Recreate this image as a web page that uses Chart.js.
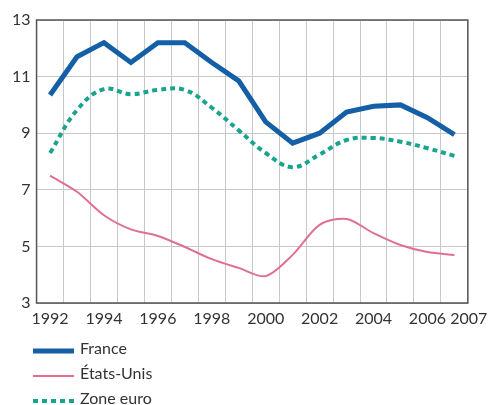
<!DOCTYPE html>
<html lang="fr">
<head>
    <meta charset="UTF-8">
    <title>France, États-Unis, Zone euro</title>
    <script src="https://cdn.jsdelivr.net/npm/chart.js"></script>
    <style>
        html, body { margin: 0; padding: 0; background: #fff; }
        #wrap { width: 494px; height: 405px; }
    </style>
</head>
<body>
    <div id="wrap"><canvas id="myChart"></canvas></div>

    <script>
        // données
        const years = ['1992', '1993', '1994', '1995', '1996', '1997', '1998', '1999',
                       '2000', '2001', '2002', '2003', '2004', '2005', '2006', '2007'];
        const shownYears = ['1992', '1994', '1996', '1998', '2000', '2002', '2004', '2006', '2007'];
        const france = [10.35, 11.7, 12.2, 11.5, 12.2, 12.2, 11.5, 10.85, 9.4, 8.65, 9.0, 9.75, 9.95, 10.0, 9.55, 8.95];
        const etatsUnis = [7.5, 6.93, 6.1, 5.6, 5.37, 4.98, 4.55, 4.24, 3.95, 4.7, 5.76, 5.97, 5.47, 5.05, 4.8, 4.7];
        const zoneEuro = [8.3, 9.82, 10.56, 10.38, 10.53, 10.53, 9.9, 9.1, 8.3, 7.8, 8.25, 8.76, 8.83, 8.7, 8.47, 8.2];
        const yMin = 3, yMax = 13, yStep = 2;

        const fontName = 'Lato, "Open Sans", sans-serif';

        // cadre autour de la zone du graphique
        const framePlugin = {
            id: 'frame',
            afterDraw(chart) {
                const a = chart.chartArea;
                const ctx = chart.ctx;
                ctx.save();
                ctx.strokeStyle = '#555';
                ctx.lineWidth = 1.5;
                ctx.strokeRect(a.left, a.top, a.right - a.left, a.bottom - a.top);
                ctx.restore();
            }
        };

        // légende verticale en bas à gauche
        const legendPlugin = {
            id: 'vlegend',
            afterDraw(chart) {
                const ctx = chart.ctx;
                const top = chart.chartArea.bottom + 46;
                ctx.save();
                chart.data.datasets.forEach((ds, i) => {
                    const y = top + i * 25;
                    ctx.beginPath();
                    ctx.strokeStyle = ds.borderColor;
                    ctx.lineWidth = ds.borderWidth;
                    ctx.setLineDash(ds.borderDash || []);
                    ctx.moveTo(33, y + 2);
                    ctx.lineTo(74, y + 2);
                    ctx.stroke();
                    ctx.setLineDash([]);
                    ctx.fillStyle = '#333';
                    ctx.font = '16px ' + fontName;
                    ctx.textBaseline = 'middle';
                    ctx.fillText(ds.label, 80, y);
                });
                ctx.restore();
            }
        };

        const ctx = document.getElementById('myChart').getContext('2d');
        const myChart = new Chart(ctx, {
            type: 'line',
            data: {
                labels: years,
                datasets: [{
                    label: 'France',
                    data: france,
                    borderColor: '#145fa5',
                    borderWidth: 5,
                    tension: 0,
                    pointRadius: 0
                }, {
                    label: 'États-Unis',
                    data: etatsUnis,
                    borderColor: '#e0708f',
                    borderWidth: 2,
                    tension: 0.3,
                    pointRadius: 0
                }, {
                    label: 'Zone euro',
                    data: zoneEuro,
                    borderColor: '#18a48d',
                    borderWidth: 4,
                    borderDash: [5, 4],
                    tension: 0.4,
                    pointRadius: 0
                }]
            },
            options: {
                responsive: true,
                maintainAspectRatio: false,
                animation: false,
                layout: { padding: { top: 20, right: 23, left: 6, bottom: 80 } },
                plugins: {
                    legend: { display: false },
                    tooltip: { enabled: false }
                },
                scales: {
                    x: {
                        offset: true,
                        afterFit: s => { s.height = 22; },
                        grid: { color: '#c8c8c8', drawTicks: false, offset: true },
                        ticks: {
                            autoSkip: false,
                            maxRotation: 0,
                            padding: 6,
                            color: '#333',
                            font: { family: fontName, size: 16 },
                            callback: function (v, i) {
                                const y = years[i];
                                if (!shownYears.includes(y)) return '';
                                return y === '2007' ? '       ' + y : y;
                            }
                        }
                    },
                    y: {
                        min: yMin,
                        max: yMax,
                        grid: { color: '#c8c8c8', drawTicks: false },
                        ticks: {
                            stepSize: yStep,
                            padding: 6,
                            color: '#333',
                            font: { family: fontName, size: 16 }
                        }
                    }
                }
            },
            plugins: [framePlugin, legendPlugin]
        });
    </script>
</body>
</html>
